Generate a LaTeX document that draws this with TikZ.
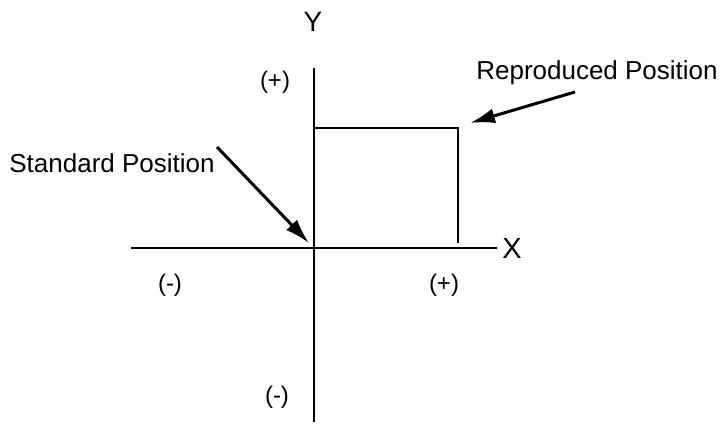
\documentclass[tikz,border=0pt]{standalone}
\usepackage{fontspec}
\setmainfont{Liberation Sans}
\usetikzlibrary{arrows.meta}

\begin{document}
\begin{tikzpicture}[x=1pt, y=-1pt,
    axis/.style={line width=2.4pt},
    pointer/.style={line width=3pt, -{Latex[length=25pt, width=15pt]}},
    lbl/.style={font=\fontsize{26}{28}\selectfont, inner sep=0pt},
    sign/.style={font=\fontsize{24}{26}\selectfont, inner sep=0pt}]
  \useasboundingbox (0,0) rectangle (720,430);

  % Axes.
  \coordinate (o) at (314,248);
  \coordinate (xl) at (131,248);
  \coordinate (xr) at (497,248);
  \coordinate (yt) at (314,68);
  \coordinate (yb) at (314,422);
  \draw[axis] (xl) -- (xr);
  \draw[axis] (yt) -- (yb);
  \node[lbl, font=\fontsize{29}{30}\selectfont] (xlab) at (512,249) {X};
  \node[lbl, font=\fontsize{28}{30}\selectfont] (ylab) at (313,22) {Y};

  % Signs.
  \node[sign] (ypos) at (275,82) {(+)};
  \node[sign] (xpos) at (444,285) {(+)};
  \node[sign] (xneg) at (170,285) {(-)};
  \node[sign] (yneg) at (277,397) {(-)};

  % Reproduced position.
  \coordinate (rtl) at (314,128);
  \coordinate (rtr) at (458,128);
  \coordinate (rbr) at (458,243);
  \draw[axis] (rtl) -- (rtr) -- (rbr);

  % Labels and pointers.
  \node[lbl] (std) at (112,163) {Standard Position};
  \coordinate (stdtail) at (217,147);
  \coordinate (stdtip) at (309,243);
  \draw[pointer] (stdtail) -- (stdtip);

  \node[lbl] (rep) at (597,73) {Reproduced Position};
  \coordinate (reptail) at (575,92);
  \coordinate (reptip) at (470,123);
  \draw[pointer] (reptail) -- (reptip);
\end{tikzpicture}
\end{document}
